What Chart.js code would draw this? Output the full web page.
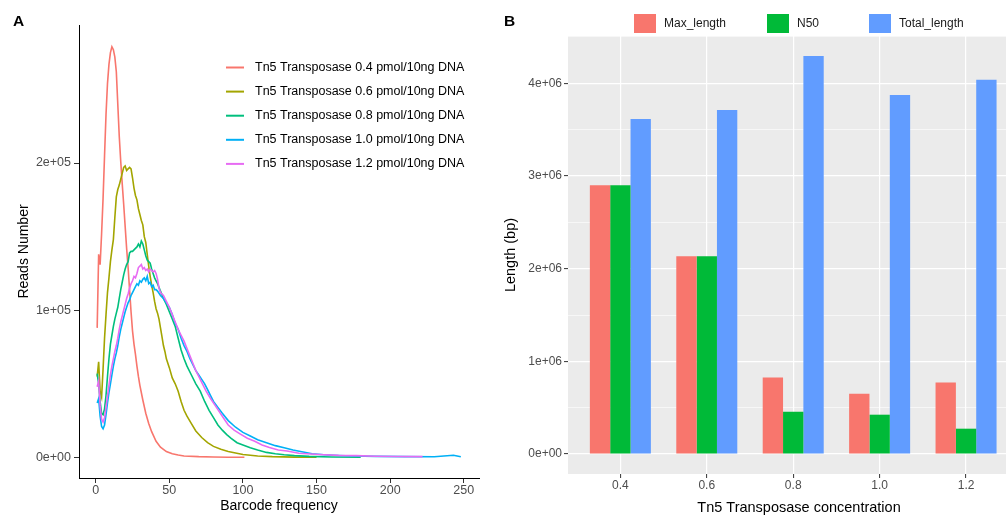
<!DOCTYPE html>
<html>
<head>
<meta charset="utf-8">
<script src="https://cdn.jsdelivr.net/npm/chart.js@4"></script>
<style>
html, body { margin: 0; padding: 0; overflow: hidden; background: #fff; }
body { position: relative; width: 1006px; height: 517px; }
#chartA { position: absolute; left: 0; top: 0; }
#chartB { position: absolute; left: 500px; top: 0; }
.tag { position: absolute; font: bold 15.5px "Liberation Sans", Arial, sans-serif; line-height: 15.5px; color: #000; }
</style>
</head>
<body>
<canvas id="chartA" width="500" height="517"></canvas>
<canvas id="chartB" width="540" height="517"></canvas>
<div class="tag" style="left:13px;top:13px">A</div>
<div class="tag" style="left:504px;top:13px">B</div>
<script>
// ---- panel A data ----
let freq04 = [1,2,3,4,5,6,7,8,9,10,11,12,13,14,15,16,17,18,19,20,21,22,23,24,25,26,27,28,29,30,32,34,36,38,41,44,48,52,56,60,70,80,90,101];
let reads04 = [88000,138000,131000,152000,176000,205000,233000,254000,267000,275000,279000,277000,272000,262000,240000,218000,201000,186000,172000,157000,142000,129000,114000,99000,86000,77000,70000,62000,55000,49000,39000,30000,23000,17500,11000,7000,4000,2500,1600,1000,500,250,150,100];

let freq06 = [1,2,3,4,5,6,7,8,9,10,11,12,13,14,15,16,17,18,19,20,21,22,23,24,25,26,27,28,29,30,31,32,33,34,35,36,37,38,39,40,41,42,43,44,45,46,47,48,50,52,54,56,58,60,62,65,68,72,76,80,85,90,95,100,110,120,135,150];
let reads06 = [55000,65000,45000,41000,60000,81000,97000,112000,122000,133000,141000,148000,163000,177000,182000,185000,189000,193000,197000,198000,195000,196000,197000,196000,190000,183000,178000,175000,169000,165000,161000,158000,150000,146000,138000,130000,123000,117000,112000,106000,101000,98000,94000,88000,82000,76000,72000,67000,61000,54000,50000,45000,38000,32000,28000,23000,18000,13500,10000,7500,5500,4000,3000,2000,1000,500,200,100];

let freq08 = [1,2,3,4,5,6,7,8,9,10,11,12,13,14,15,16,17,18,19,20,21,22,23,24,25,26,27,28,29,30,31,32,33,34,35,36,37,38,39,40,41,42,44,46,48,50,52,54,56,58,60,62,65,68,71,74,77,80,83,86,89,92,96,100,105,110,116,122,128,135,145,160,180];
let reads08 = [57000,50000,38000,30000,29000,33000,42000,55000,67000,77000,83000,89000,94000,98000,102000,108000,114000,119000,124000,128000,131000,133000,139000,140000,140000,141000,142000,143000,145000,143000,147000,145000,141000,137000,134000,133000,132000,128000,125000,122000,120000,118000,113000,108000,104000,99000,94000,89000,81000,73000,67000,62000,56000,50000,45000,38000,32000,27000,22000,18500,15500,13000,10000,8500,6500,5000,3400,2500,1800,1200,700,300,100];

let freq10 = [1,2,3,4,5,6,7,8,9,10,11,12,13,14,15,16,17,18,19,20,21,22,23,24,25,26,27,28,29,30,31,32,33,34,35,36,37,38,39,40,41,42,44,46,48,50,52,54,56,58,60,62,64,66,68,70,72,74,76,78,80,83,86,90,95,100,105,110,116,122,128,134,140,147,155,165,175,190,210,230,243,248];
let reads10 = [37000,40000,28000,21000,19500,22000,29000,37000,44000,50000,56000,62000,67000,71000,76000,82000,87000,91000,95000,99000,102000,105000,107000,110000,112000,114000,116000,118000,117000,120000,119000,121000,122000,120000,123000,118000,119000,116000,117000,114000,114000,113000,110000,108000,105000,102000,97000,91000,87000,81000,76000,72000,67000,63000,59000,56000,53000,50000,46000,42000,38000,34000,30000,25000,20500,17000,14500,12000,10000,8000,6500,5000,3800,2500,1800,1300,1000,700,500,400,1500,400];

let freq12 = [1,2,3,4,5,6,7,8,9,10,11,12,13,14,15,16,17,18,19,20,21,22,23,24,25,26,27,28,29,30,31,32,33,34,35,36,37,38,39,40,41,42,43,44,46,48,50,52,54,56,58,60,62,64,66,68,70,72,75,78,82,86,90,94,98,103,108,113,118,124,130,138,146,155,165,177,190,205,222];
let reads12 = [48000,52000,35000,26000,24000,27000,34000,42000,49000,56000,62000,67000,72000,76000,81000,87000,92000,96000,100000,104000,108000,111000,115000,118000,120000,123000,122000,125000,129000,130000,131000,128000,129000,127000,128000,126000,128000,127000,126000,127000,125000,121000,115000,112000,110000,106000,102000,97000,92000,87000,83000,79000,74000,69000,64000,59000,55000,51000,45000,40000,34000,28000,22000,18500,16000,13000,11000,8500,6800,5000,4300,2800,2300,1800,1400,1200,800,600,500];

let seriesNames = [
    "Tn5 Transposase 0.4 pmol/10ng DNA",
    "Tn5 Transposase 0.6 pmol/10ng DNA",
    "Tn5 Transposase 0.8 pmol/10ng DNA",
    "Tn5 Transposase 1.0 pmol/10ng DNA",
    "Tn5 Transposase 1.2 pmol/10ng DNA"
];
let freqTicks = [0, 50, 100, 150, 200, 250];
let readsTicks = [0, 100000, 200000];

// ---- panel B data ----
let concentrations = ["0.4", "0.6", "0.8", "1.0", "1.2"];
let maxLength = [2900000, 2133000, 825000, 652000, 771000];
let n50 = [2900000, 2133000, 457000, 425000, 274000];
let totalLength = [3614000, 3711000, 4295000, 3874000, 4037000];
let lengthTicks = [0, 1000000, 2000000, 3000000, 4000000];
let lengthMinor = [500000, 1500000, 2500000, 3500000, 4500000];


const FONT = '"Liberation Sans", Arial, sans-serif';
Chart.defaults.font.family = FONT;

// R style labels: 1e+05
function sci(v) {
    if (v === 0) return "0e+00";
    let e = Math.floor(Math.log10(Math.abs(v)));
    let m = Math.round(v / Math.pow(10, e));
    return m + "e+" + String(e).padStart(2, "0");
}

function points(xs, ys) {
    return xs.map((x, i) => ({ x: x, y: ys[i] }));
}

//legend inside the plot of A
let legendA = {
    id: "legendA",
    afterDraw(chart) {
        let ctx = chart.ctx;
        ctx.save();
        ctx.font = "12.5px " + FONT;
        ctx.textBaseline = "middle";
        chart.data.datasets.forEach((ds, i) => {
            let y = 67.5 + i * 24.1;
            ctx.strokeStyle = ds.borderColor;
            ctx.lineWidth = 2;
            ctx.beginPath();
            ctx.moveTo(226, y);
            ctx.lineTo(244, y);
            ctx.stroke();
            ctx.fillStyle = "#000";
            ctx.fillText(ds.label, 255, y);
        });
        ctx.restore();
    }
};

//gray ggplot panel
let panelBg = {
    id: "panelBg",
    beforeDraw(chart) {
        let a = chart.chartArea;
        chart.ctx.save();
        chart.ctx.fillStyle = "#EBEBEB";
        chart.ctx.fillRect(a.left, a.top, a.right - a.left, a.bottom - a.top);
        chart.ctx.restore();
    }
};

//legend of B on top
let legendB = {
    id: "legendB",
    afterDraw(chart) {
        let ctx = chart.ctx;
        let xs = [134, 267, 369];
        ctx.save();
        ctx.font = "12px " + FONT;
        ctx.textBaseline = "middle";
        chart.data.datasets.forEach((ds, i) => {
            ctx.fillStyle = ds.backgroundColor;
            ctx.fillRect(xs[i], 14, 22, 19);
            ctx.fillStyle = "#1a1a1a";
            ctx.fillText(ds.label, xs[i] + 30, 24);
        });
        ctx.restore();
    }
};

let colorsA = ["#F8766D", "#A3A500", "#00BF7D", "#00B0F6", "#E76BF3"];
let xsA = [freq04, freq06, freq08, freq10, freq12];
let ysA = [reads04, reads06, reads08, reads10, reads12];

new Chart("chartA", {
    type: "line",
    data: {
        datasets: seriesNames.map((name, i) => ({
            label: name,
            data: points(xsA[i], ysA[i]),
            borderColor: colorsA[i],
            backgroundColor: colorsA[i],
            borderWidth: 1.6,
            pointRadius: 0,
            tension: 0,
            fill: false,
            order: seriesNames.length - i
        }))
    },
    options: {
        responsive: false,
        animation: false,
        layout: { padding: { left: 0, top: 25, right: 21, bottom: 0 } },
        plugins: { legend: { display: false }, tooltip: { enabled: false } },
        scales: {
            x: {
                type: "linear",
                min: -11.35,
                max: 260.35,
                afterBuildTicks: s => { s.ticks = freqTicks.map(v => ({ value: v })); },
                afterFit: s => { s.height = 39; },
                border: { display: true, color: "#000", width: 1 },
                grid: { display: true, drawOnChartArea: false, drawTicks: true, tickLength: 5, tickColor: "#333", tickWidth: 1 },
                ticks: { color: "#4D4D4D", font: { size: 12.5 }, padding: 0, maxRotation: 0 },
                title: { display: true, text: "Barcode frequency", color: "#000", font: { size: 14 }, padding: { top: 0, bottom: 2 } }
            },
            y: {
                type: "linear",
                min: -13990,
                max: 293790,
                afterBuildTicks: s => { s.ticks = readsTicks.map(v => ({ value: v })); },
                afterFit: s => { s.width = 79; },
                border: { display: true, color: "#000", width: 1 },
                grid: { display: true, drawOnChartArea: false, drawTicks: true, tickLength: 5, tickColor: "#333", tickWidth: 1 },
                ticks: { color: "#4D4D4D", font: { size: 12.5 }, padding: 3, callback: v => sci(v) },
                title: { display: true, text: "Reads Number", color: "#000", font: { size: 14 }, padding: { top: 15.6, bottom: 0 } }
            }
        }
    },
    plugins: [legendA]
});

let isMajor = c => c.tick && lengthTicks.includes(c.tick.value);

new Chart("chartB", {
    type: "bar",
    data: {
        datasets: [
            { label: "Max_length", data: points([0, 1, 2, 3, 4], maxLength), backgroundColor: "#F8766D" },
            { label: "N50", data: points([0, 1, 2, 3, 4], n50), backgroundColor: "#00BA38" },
            { label: "Total_length", data: points([0, 1, 2, 3, 4], totalLength), backgroundColor: "#619CFF" }
        ]
    },
    options: {
        responsive: false,
        animation: false,
        datasets: { bar: { categoryPercentage: 0.706, barPercentage: 1, borderWidth: 0 } },
        layout: { padding: { left: 0, top: 36, right: 10, bottom: 0 } },
        plugins: { legend: { display: false }, tooltip: { enabled: false } },
        scales: {
            x: {
                type: "linear",
                min: -0.606,
                max: 4.74,
                offset: false,
                afterBuildTicks: s => { s.ticks = concentrations.map((c, i) => ({ value: i })); },
                afterFit: s => { s.height = 43; },
                border: { display: false },
                grid: { offset: false, color: "#fff", lineWidth: 1.2, tickColor: "#333", tickLength: 4, tickWidth: 1 },
                ticks: { color: "#4D4D4D", font: { size: 12 }, padding: 0, maxRotation: 0, callback: v => concentrations[v] },
                title: { display: true, text: "Tn5 Transposase concentration", color: "#000", font: { size: 14.5 }, padding: { top: 0, bottom: 0 } }
            },
            y: {
                type: "linear",
                min: -214800,
                max: 4510000,
                afterBuildTicks: s => {
                    s.ticks = lengthTicks.concat(lengthMinor).sort((a, b) => a - b).map(v => ({ value: v }));
                },
                afterFit: s => { s.width = 68; },
                border: { display: false },
                grid: {
                    color: "#fff",
                    lineWidth: c => isMajor(c) ? 1.2 : 0.6,
                    tickColor: c => isMajor(c) ? "#333" : "rgba(0,0,0,0)",
                    tickLength: 4,
                    tickWidth: 1
                },
                ticks: {
                    autoSkip: false,
                    color: "#4D4D4D",
                    font: { size: 12 },
                    padding: 2,
                    callback: v => lengthTicks.includes(v) ? sci(v) : ""
                },
                title: { display: true, text: "Length (bp)", color: "#000", font: { size: 14.5 }, padding: { top: 2.3, bottom: 0 } }
            }
        }
    },
    plugins: [panelBg, legendB]
});
</script>
</body>
</html>
